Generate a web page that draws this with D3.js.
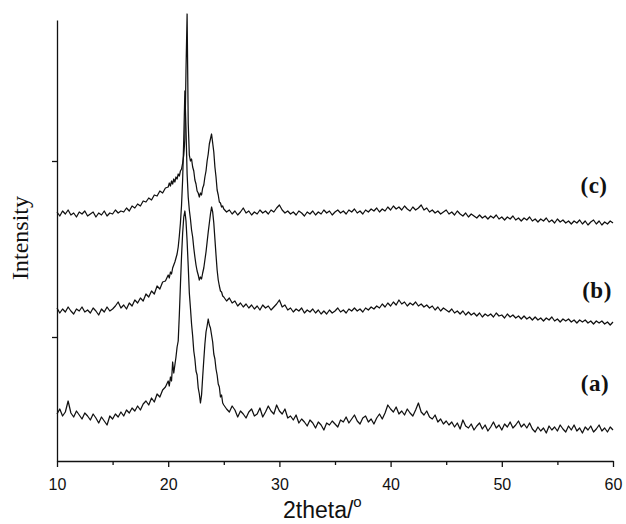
<!DOCTYPE html>
<html>
<head>
<meta charset="utf-8">
<script src="https://cdn.jsdelivr.net/npm/d3@7"></script>
<style>
  body { margin: 0; background: #fff; }
  svg { display: block; }
</style>
</head>
<body>
<script>
// XRD patterns (a), (b), (c) - intensity in arbitrary units, stacked with offsets

// angle grids (2theta, degrees) for the three scan segments
var gridLow = d3.range(40).map(function(i){ return 10 + i * 0.25; });   // 10 .. 19.75
var gridPeak = d3.range(50).map(function(i){ return 20 + i / 10; });    // 20 .. 24.9
var gridHigh = d3.range(141).map(function(i){ return 25 + i * 0.25; }); // 25 .. 60

var xTicks = [10, 20, 30, 40, 50, 60];
var xMinorTicks = [15, 25, 35, 45, 55];
var yTicks = [124, 300];
var seriesNames = ["(a)", "(b)", "(c)"];

// curve (c)
var cLow = [249,245,250,247,251,246,248,244,249,247,250,245,247,249,244,248,246,250,245,248,
  247,251,248,250,249,253,250,255,253,257,255,260,259,263,261,266,265,270,268,273];
var cPeak = [274,278,275,280,277,282,279,284,282,287,285,290,292,298,306,322,390,447,338,306,
  300,302,294,290,281,277,270,268,264,268,266,273,276,284,290,300,307,317,322,327,
  318,309,294,284,271,266,259,258,254,255];
var cHigh = [252,249,251,247,250,246,249,253,248,250,246,249,247,251,248,250,247,251,249,253,
  256,251,248,250,247,249,246,250,248,245,249,247,250,246,249,247,251,248,250,246,
  249,251,248,250,247,251,249,252,248,250,247,251,249,252,250,253,249,252,250,254,
  251,255,252,254,251,255,252,250,254,251,253,256,251,253,249,251,248,250,247,249,
  251,247,249,246,250,247,245,248,244,247,245,243,246,243,245,242,245,243,246,242,
  244,241,244,242,245,241,243,240,243,241,244,240,242,239,242,240,243,239,241,238,
  242,239,241,238,240,237,240,238,241,237,240,236,239,241,237,240,236,239,237,240,238];

// curve (b)
var bLow = [153,148,152,149,154,150,147,152,150,154,149,151,148,153,150,146,152,149,154,150,
  152,155,159,153,156,152,158,155,161,158,163,160,167,164,170,167,175,172,179,180];
var bPeak = [186,183,189,187,193,196,199,203,207,214,225,238,256,282,322,370,332,287,264,251,
  242,231,224,213,204,196,190,186,181,184,182,188,193,201,209,219,229,238,247,254,
  249,238,222,206,191,181,175,170,169,165];
var bHigh = [164,160,163,158,160,155,158,154,157,153,156,152,155,151,156,153,155,151,154,157,
  161,154,156,151,153,149,152,150,153,148,151,149,152,148,151,147,150,147,151,148,
  150,153,149,151,148,152,150,153,150,152,149,153,151,154,152,155,153,157,154,158,
  155,159,156,161,157,159,155,158,156,159,155,157,154,156,153,155,151,154,150,153,
  151,149,152,148,150,147,150,146,149,146,148,145,148,144,147,145,147,144,148,145,
  146,143,147,144,146,143,145,142,145,142,144,141,144,141,143,140,143,141,144,140,
  142,139,142,140,142,139,141,138,141,139,141,138,140,137,140,138,140,137,139,136,139];

// curve (a)
var aLow = [47,52,45,49,60,48,44,50,46,42,48,45,41,47,43,38,44,40,36,45,
  42,47,44,49,45,51,48,53,50,55,51,57,60,56,63,59,67,64,71,74];
var aPeak = [80,75,84,80,99,88,96,104,114,120,146,176,205,228,244,250,240,220,195,168,
  153,137,125,110,102,90,86,73,67,58,66,84,101,117,129,135,142,136,133,126,
  119,107,102,92,86,77,74,64,66,58];
var aHigh = [56,52,49,55,51,44,50,47,43,49,52,45,47,53,44,49,55,50,47,56,
  50,47,52,43,45,41,46,38,42,39,35,41,38,33,39,36,31,38,36,40,
  37,34,41,39,44,38,42,46,40,37,43,45,39,42,37,43,47,42,48,56,
  52,49,54,47,50,46,52,48,45,51,58,49,46,50,44,42,46,39,42,37,
  40,36,39,34,38,32,41,35,33,37,31,35,38,32,36,30,34,39,33,36,
  31,37,34,39,33,36,40,34,37,33,38,32,29,34,30,33,28,35,31,34,
  30,36,32,29,35,31,36,30,33,28,34,31,35,29,32,36,30,33,29,34,31];

var width = 626, height = 524;
var svg = d3.select("body").append("svg").attr("width", width).attr("height", height);

var xScale = d3.scaleLinear().domain([10, 60]).range([57, 613]);
var yScale = d3.scaleLinear().domain([0, 441]).range([461, 20]);

function toPoints(parts){
  var pts = [];
  parts.forEach(function(p){
    var n = Math.min(p[0].length, p[1].length);
    for (var i = 0; i < n; i++) pts.push([p[0][i], p[1][i]]);
  });
  return pts;
}

var curves = [
  toPoints([[gridLow, aLow], [gridPeak, aPeak], [gridHigh, aHigh]]),
  toPoints([[gridLow, bLow], [gridPeak, bPeak], [gridHigh, bHigh]]),
  toPoints([[gridLow, cLow], [gridPeak, cPeak], [gridHigh, cHigh]])
];

var line = d3.line()
  .x(function(d){ return xScale(d[0]); })
  .y(function(d){ return yScale(d[1]); });

svg.append("g").selectAll("path")
  .data(curves)
  .enter()
  .append("path")
  .attr("d", line)
  .style("fill", "none")
  .style("stroke", "#111")
  .style("stroke-width", "1.25px")
  .style("stroke-linejoin", "round");

// x axis, major + minor ticks
var xAxis = d3.axisBottom(xScale).tickValues(xTicks).tickSize(6).tickSizeOuter(0).tickPadding(12)
  .tickFormat(d3.format("d"));
var xg = svg.append("g").attr("transform", "translate(0,461)").call(xAxis);
var xMinor = d3.axisBottom(xScale).tickValues(xMinorTicks).tickSize(4).tickFormat("");
var xmg = svg.append("g").attr("transform", "translate(0,461)").call(xMinor);
xmg.select(".domain").remove();

// y axis, unlabeled ticks
var yAxis = d3.axisLeft(yScale).tickValues(yTicks).tickSize(5).tickSizeOuter(0).tickFormat("");
var yg = svg.append("g").attr("transform", "translate(57,0)").call(yAxis);

svg.selectAll(".domain").style("stroke", "#111").style("stroke-width", "1.3px");
svg.selectAll(".tick line").style("stroke", "#111").style("stroke-width", "1.3px");
xg.selectAll(".tick text")
  .style("font-family", "'Liberation Sans', Arial, sans-serif")
  .style("font-size", "16px")
  .style("fill", "#111");

// axis titles
var xTitle = svg.append("text")
  .attr("x", 283)
  .attr("y", 518)
  .style("font-family", "'Liberation Sans', Arial, sans-serif")
  .style("font-size", "23px")
  .style("fill", "#111");
xTitle.append("tspan").text("2theta/");
xTitle.append("tspan").attr("dy", -11).style("font-size", "15px").text("o");

svg.append("text")
  .attr("transform", "translate(28,238) rotate(-90)")
  .attr("text-anchor", "middle")
  .style("font-family", "'Liberation Serif', 'Times New Roman', serif")
  .style("font-size", "24px")
  .style("fill", "#111")
  .text("Intensity");

// curve labels
var labelPos = [[595, 391], [597, 298], [594, 193]];
svg.append("g").selectAll("text")
  .data(seriesNames)
  .enter()
  .append("text")
  .attr("x", function(d, i){ return labelPos[i][0]; })
  .attr("y", function(d, i){ return labelPos[i][1]; })
  .attr("text-anchor", "middle")
  .style("font-family", "'Liberation Serif', 'Times New Roman', serif")
  .style("font-weight", "bold")
  .style("font-size", "23px")
  .style("letter-spacing", "0.5px")
  .style("fill", "#111")
  .text(function(d){ return d; });
</script>
</body>
</html>
